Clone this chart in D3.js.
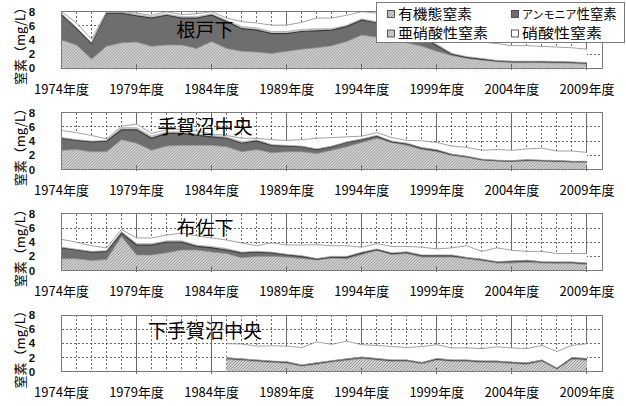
<!DOCTYPE html>
<html><head><meta charset="utf-8">
<script src="https://cdn.jsdelivr.net/npm/d3@7"></script>
<style>
html,body{margin:0;padding:0;background:#fff;}
svg{display:block;font-family:"Noto Sans CJK JP","Noto Sans",sans-serif;}
</style></head><body>
<svg id="chart" width="626" height="406"></svg>
<script>
// 年度
const years = [1974,1975,1976,1977,1978,1979,1980,1981,1982,1983,1984,1985,1986,1987,1988,1989,1990,1991,
  1992,1993,1994,1995,1996,1997,1998,1999,2000,2001,2002,2003,2004,2005,2006,2007,2008,2009];
const tickYears = [1974,1979,1984,1989,1994,1999,2004,2009];
const tickLabels = ["1974年度","1979年度","1984年度","1989年度","1994年度","1999年度","2004年度","2009年度"];
const yTicks = [0,2,4,6,8];
const sites = ["根戸下","手賀沼中央","布佐下","下手賀沼中央"];
const seriesNames = ["有機態窒素","アンモニア性窒素","亜硝酸性窒素","硝酸性窒素"];
const yTitle = "窒素（mg/L）";

// 根戸下 (mg/L)
const nedoOrganic = [4.0,3.3,1.3,3.1,3.6,3.7,3.1,3.3,3.3,2.8,3.8,2.8,2.4,2.3,2.1,2.4,2.7,2.9,3.2,3.8,4.7,4.4,4.0,3.6,3.1,2.4,1.8,1.4,1.15,0.95,0.8,0.8,0.8,0.75,0.7,0.6];
const nedoAmmonia = [3.6,2.3,2.2,4.7,4.2,3.7,4.0,4.2,3.8,4.3,3.7,3.8,3.2,3.1,2.8,2.5,2.5,2.4,2.2,2.1,2.1,2.0,1.8,1.6,1.3,0.8,0.2,0.15,0.15,0.1,0.15,0.15,0.15,0.15,0.15,0.15];
const nedoNitrite = [0.1,0.2,0.1,0.1,0.1,0.2,0.2,0.2,0.2,0.2,0.2,0.2,0.3,0.3,0.3,0.3,0.3,0.3,0.2,0.2,0.2,0.2,0.2,0.2,0.2,0.2,0.1,0.1,0.1,0.05,0.05,0.05,0.05,0.05,0.05,0.05];
const nedoNitrate = [0.3,0.6,0.5,0.1,0.1,0.2,0.2,0.3,0.3,0.4,0.3,0.3,0.7,0.7,0.9,0.9,1.0,1.5,1.5,1.4,1.0,1.2,1.5,1.6,1.8,1.8,2.2,2.25,2.3,2.4,2.2,2.2,2.1,2.05,2.0,1.9];

// 手賀沼中央
const tegaOrganic = [2.7,2.8,2.5,2.5,4.2,3.7,2.7,3.3,3.4,3.4,3.4,3.2,2.5,2.8,2.35,2.5,2.5,2.25,2.7,3.2,3.8,4.4,3.8,3.4,2.8,2.5,2.0,1.7,1.3,1.2,1.1,1.2,1.2,1.1,1.05,1.05];
const tegaAmmonia = [1.7,1.3,1.4,1.5,1.4,1.9,1.7,1.8,1.7,1.4,1.2,1.2,1.2,1.2,1.05,0.8,0.7,0.55,0.5,0.6,0.4,0.3,0.1,0.2,0.2,0.2,0.1,0.1,0.1,0.05,0.1,0.1,0.05,0.1,0.05,0.05];
const tegaNitrite = [0.1,0.1,0.1,0.1,0.3,0.3,0.3,0.2,0.2,0.2,0.2,0.2,0.2,0.2,0.1,0.1,0.1,0.1,0.1,0.1,0.1,0.1,0.1,0.1,0.1,0.1,0.05,0.05,0.05,0.05,0.05,0.05,0.05,0.05,0.05,0.05];
const tegaNitrate = [1.0,1.0,0.8,0.2,0.2,0.5,0.4,0.3,0.4,0.4,0.2,0.2,0.5,0.2,0.7,0.7,0.9,1.5,1.2,0.7,0.4,0.4,0.5,0.4,0.95,1.0,1.15,1.25,1.25,1.5,1.45,1.55,1.7,1.35,1.45,1.25];

// 布佐下
const fusaOrganic = [1.65,1.65,1.4,1.55,4.8,2.2,2.2,2.5,2.9,2.9,2.6,2.4,1.8,2.0,2.0,1.9,1.7,1.5,1.75,1.65,2.25,2.85,2.25,2.4,1.9,1.9,1.9,1.65,1.4,1.05,1.05,1.15,1.05,1.0,1.0,0.85];
const fusaAmmonia = [1.55,1.25,1.2,1.15,0.5,1.4,1.4,1.5,1.1,0.5,0.6,0.5,0.7,0.6,0.5,0.3,0.3,0.1,0.15,0.25,0.25,0.1,0.15,0.15,0.2,0.2,0.2,0.15,0.15,0.15,0.25,0.25,0.15,0.15,0.15,0.15];
const fusaNitrite = [0.1,0.1,0.1,0.1,0.2,0.2,0.2,0.2,0.2,0.2,0.2,0.2,0.1,0.1,0.1,0.1,0.1,0.1,0.1,0.1,0.1,0.1,0.1,0.1,0.1,0.1,0.1,0.05,0.05,0.05,0.05,0.05,0.05,0.05,0.05,0.05];
const fusaNitrate = [1.1,1.0,0.8,0.4,0.3,0.8,0.8,0.8,1.1,1.3,1.2,1.2,1.3,0.8,1.3,1.3,1.5,1.95,1.5,1.5,0.7,0.75,0.9,0.75,1.1,0.85,1.0,1.65,1.1,1.95,1.5,1.25,1.45,1.2,1.2,1.35];

// 下手賀沼中央 (1985年度から)
const shimoOrganic = [null,null,null,null,null,null,null,null,null,null,null,1.75,1.6,1.45,1.3,1.2,0.75,1.05,1.35,1.6,1.85,1.65,1.45,1.45,1.1,1.65,1.45,1.45,1.3,1.3,1.15,1.05,1.45,0.35,1.75,1.6];
const shimoAmmonia = [null,null,null,null,null,null,null,null,null,null,null,0.15,0.15,0.15,0.15,0.15,0.15,0.15,0.15,0.15,0.15,0.15,0.15,0.15,0.15,0.15,0.15,0.15,0.15,0.15,0.15,0.15,0.15,0.1,0.2,0.2];
const shimoNitrite = [null,null,null,null,null,null,null,null,null,null,null,0.05,0.05,0.05,0.05,0.05,0.05,0.05,0.05,0.05,0.05,0.05,0.05,0.05,0.05,0.05,0.05,0.05,0.05,0.05,0.05,0.05,0.05,0.05,0.05,0.05];
const shimoNitrate = [null,null,null,null,null,null,null,null,null,null,null,2.0,2.1,1.95,2.15,2.2,2.45,2.95,2.3,2.5,1.75,1.85,1.9,1.75,2.25,1.95,1.7,1.7,1.75,2.0,2.0,2.0,2.05,2.35,1.7,2.1];

const siteSeries = [
  [nedoOrganic, nedoAmmonia, nedoNitrite, nedoNitrate],
  [tegaOrganic, tegaAmmonia, tegaNitrite, tegaNitrate],
  [fusaOrganic, fusaAmmonia, fusaNitrite, fusaNitrate],
  [shimoOrganic, shimoAmmonia, shimoNitrite, shimoNitrate]
];

// ---- layout ----
const plotLeft = 61.5, plotRight = 602;
const panelTops = [11.7, 112.8, 213.9, 315.0];
const panelH = 56.6;
const titleDy = [18.5, 14.5, 14, 16];
const keys = ["organic","ammonia","nitrite","nitrate"];
const fills = {organic:"url(#hatch)", ammonia:"#6e6e6e", nitrite:"#c4c4c4", nitrate:"#ffffff"};
const tops = {organic:"#8c8c8c", ammonia:"#3a3a3a", nitrite:"#a8a8a8", nitrate:"#8a8a8a"};

const svg = d3.select("#chart");
const defs = svg.append("defs");
const pat = defs.append("pattern").attr("id","hatch").attr("patternUnits","userSpaceOnUse")
  .attr("width",3).attr("height",3);
pat.append("rect").attr("width",3).attr("height",3).attr("fill","#d2d2d2");
pat.append("path").attr("d","M0,3 L3,0 M-1,1 L1,-1 M2,4 L4,2").attr("stroke","#939393").attr("stroke-width",0.9);

const x = d3.scaleLinear().domain([1974, 2010]).range([plotLeft, plotRight]);
const y = d3.scaleLinear().domain([0, 8]).range([panelH, 0]);

const minorYears = d3.range(1975, 2010).filter(v => !tickYears.includes(v));

sites.forEach((site, k) => {
  const g = svg.append("g").attr("transform", `translate(0,${panelTops[k]})`);
  const cols = siteSeries[k];
  const rows = years.map((yr, i) => ({
    year: yr, ok: cols[0][i] != null,
    organic: cols[0][i] || 0, ammonia: cols[1][i] || 0, nitrite: cols[2][i] || 0, nitrate: cols[3][i] || 0
  })).filter(d => d.ok);
  const stacked = d3.stack().keys(keys)(rows);

  g.append("rect").attr("x",plotLeft).attr("y",0).attr("width",plotRight-plotLeft).attr("height",panelH).attr("fill","#fff");

  // grid
  const grid = g.append("g").attr("shape-rendering","crispEdges");
  grid.selectAll(".vmin").data(minorYears).join("line")
    .attr("x1", d => x(d)).attr("x2", d => x(d)).attr("y1", 0).attr("y2", panelH)
    .attr("stroke","#444").attr("stroke-width",0.8).attr("stroke-dasharray","2,2");
  grid.selectAll(".hmin").data([2,4,6]).join("line")
    .attr("x1", plotLeft).attr("x2", plotRight).attr("y1", d => y(d)).attr("y2", d => y(d))
    .attr("stroke","#444").attr("stroke-width",0.8).attr("stroke-dasharray","2,2");
  grid.selectAll(".vmaj").data(tickYears.slice(1)).join("line")
    .attr("x1", d => x(d)).attr("x2", d => x(d)).attr("y1", 0).attr("y2", panelH)
    .attr("stroke","#6a6a6a").attr("stroke-width",1);

  // stacked areas
  const area = d3.area().x(d => x(d.data.year)).y0(d => y(d[0])).y1(d => y(d[1]));
  g.selectAll(".layer").data(stacked).join("path")
    .attr("d", area).attr("fill", s => fills[s.key]);
  const topLine = d3.line().x(d => x(d.data.year)).y(d => y(d[1]));
  g.selectAll(".edge").data(stacked).join("path")
    .attr("d", topLine).attr("fill","none")
    .attr("stroke", s => tops[s.key])
    .attr("stroke-width", s => s.key === "ammonia" ? 1.2 : 0.8);

  // major ticks at bottom
  g.append("g").attr("shape-rendering","crispEdges").selectAll("line").data(tickYears.slice(1)).join("line")
    .attr("x1", d => x(d)).attr("x2", d => x(d)).attr("y1", panelH - 4).attr("y2", panelH + 2)
    .attr("stroke","#6a6a6a");

  // frame
  g.append("rect").attr("x",plotLeft).attr("y",0).attr("width",plotRight-plotLeft).attr("height",panelH)
    .attr("fill","none").attr("stroke","#7a7a7a").attr("stroke-width",1).attr("shape-rendering","crispEdges");

  // y tick labels
  g.selectAll(".yt").data(yTicks).join("text")
    .attr("x", 32).attr("y", d => y(d)).attr("dy","0.36em")
    .attr("text-anchor","middle").attr("font-size",11.5).attr("font-weight","bold")
    .attr("font-family","'Liberation Sans',Arial,sans-serif").attr("fill","#111").text(d => d);
  // x labels
  g.selectAll(".xt").data(tickYears).join("text")
    .attr("x", d => x(d)).attr("y", panelH + 21).attr("dy","0.36em")
    .attr("text-anchor","middle").attr("font-size",13).attr("fill","#000")
    .text((d, i) => tickLabels[i]);
  // y title
  g.append("text").attr("transform", `translate(20,${panelH/2 + 3}) rotate(-90)`)
    .attr("text-anchor","middle").attr("dy","0.36em").attr("font-size",13).attr("fill","#000").text(yTitle);
  // site name
  g.append("text").attr("x", 205).attr("y", titleDy[k]).attr("dy","0.36em")
    .attr("text-anchor","middle").attr("font-size",19).attr("fill","#000").text(site);
});

// legend
const lg = svg.append("g");
lg.append("rect").attr("x",376.5).attr("y",2.5).attr("width",248).attr("height",40)
  .attr("fill","#fff").attr("stroke","#7a7a7a").attr("shape-rendering","crispEdges");
const legendPos = [[387,14],[511,14],[387,33.5],[511,33.5]];
const legendWidth = [74, null, 90, 80];
const swatchFill = [fills.organic, fills.ammonia, fills.nitrite, fills.nitrate];
seriesNames.forEach((name, i) => {
  const [lx, ly] = legendPos[i];
  lg.append("rect").attr("x", lx + 0.5).attr("y", ly - 3.5).attr("width",7).attr("height",7)
    .attr("fill", swatchFill[i]).attr("stroke","#333").attr("stroke-width",0.8);
  const t = lg.append("text").attr("x", lx + 11).attr("y", ly).attr("dy","0.36em")
    .attr("font-size", 13.4).attr("fill","#000");
  if (legendWidth[i]) {
    t.attr("textLength", legendWidth[i]).attr("lengthAdjust","spacingAndGlyphs").text(name);
  } else {
    // カタカナ部分を詰めて表示
    const kana = name.replace(/性窒素$/, "");
    t.append("tspan").attr("font-size", 11).text(kana);
    t.append("tspan").text(name.slice(kana.length));
  }
});
</script>
</body></html>
